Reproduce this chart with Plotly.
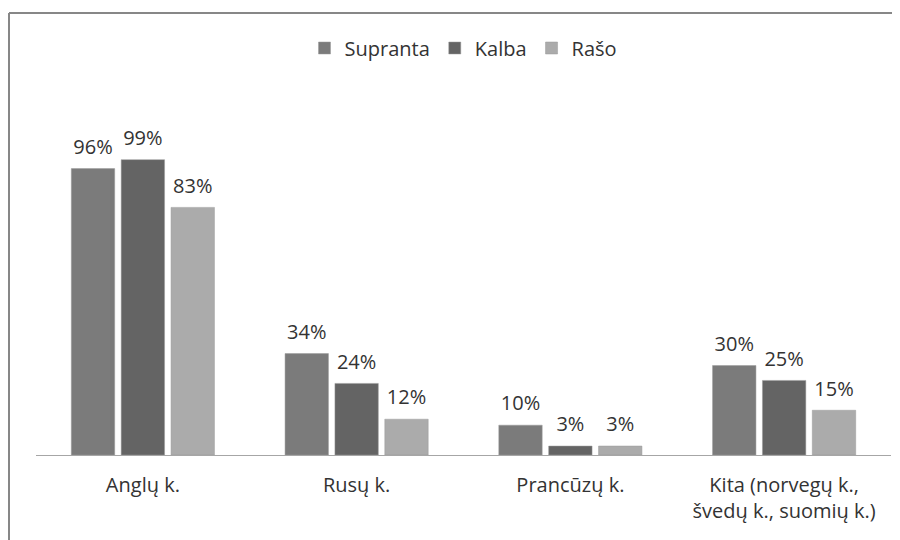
import plotly.graph_objects as go

categories = ["Anglų k.", "Rusų k.", "Prancūzų k.", "Kita (norvegų k.,<br>švedų k., suomių k.)"]
series_names = ["Supranta", "Kalba", "Rašo"]
supranta = [96, 34, 10, 30]
kalba = [99, 24, 3, 25]
raso = [83, 12, 3, 15]
colors = ["#7b7b7b", "#646464", "#ababab"]

FONT = "Open Sans"
TXT = "#333333"
FS = 20

fig = go.Figure()
for name, vals, col in zip(series_names, [supranta, kalba, raso], colors):
    fig.add_trace(go.Bar(
        x=categories, y=vals, name=name, offsetgroup=name,
        marker=dict(color=col, line=dict(color="#9a9a9a", width=0.5)),
    ))
for name, vals in zip(series_names, [supranta, kalba, raso]):
    fig.add_trace(go.Scatter(
        x=categories, y=vals, offsetgroup=name, mode="markers+text", showlegend=False,
        marker=dict(size=14, opacity=0), text=[f"{v}%" for v in vals],
        textposition="top center", textfont=dict(family=FONT, size=FS, color=TXT),
        cliponaxis=False, hoverinfo="skip",
    ))

W, H = 892, 532
L, R, T, B = 28, 9, 89, 85
pw = W - L - R
ph = H - T - B
def px(x):
    return (x - L) / pw
def py(y):
    return (H - B - y) / ph

fig.update_layout(
    width=W, height=H,
    margin=dict(l=L, r=R, t=T, b=B),
    paper_bgcolor="white", plot_bgcolor="white",
    barmode="group", bargap=0.3, bargroupgap=0.13,
    scattermode="group", scattergap=0.3,
    font=dict(family=FONT, size=FS, color=TXT),
    legend=dict(orientation="h", x=0.5, xanchor="center", y=py(40), yanchor="middle",
                font=dict(family=FONT, size=FS, color=TXT), traceorder="normal",
                itemwidth=30),
    xaxis=dict(showline=True, linecolor="#a6a6a6", linewidth=1, ticks="",
               ticklabelstandoff=12,
               tickfont=dict(family=FONT, size=FS, color=TXT), fixedrange=True),
    yaxis=dict(range=[0, 120], visible=False, showgrid=False, zeroline=False),
    shapes=[
        dict(type="line", xref="paper", yref="paper", x0=px(1), x1=px(1), y0=py(H), y1=py(5),
             line=dict(color="#878787", width=2)),
        dict(type="line", xref="paper", yref="paper", x0=px(1), x1=px(W), y0=py(5), y1=py(5),
             line=dict(color="#878787", width=2)),
    ],
)
fig.write_html("out.html")
